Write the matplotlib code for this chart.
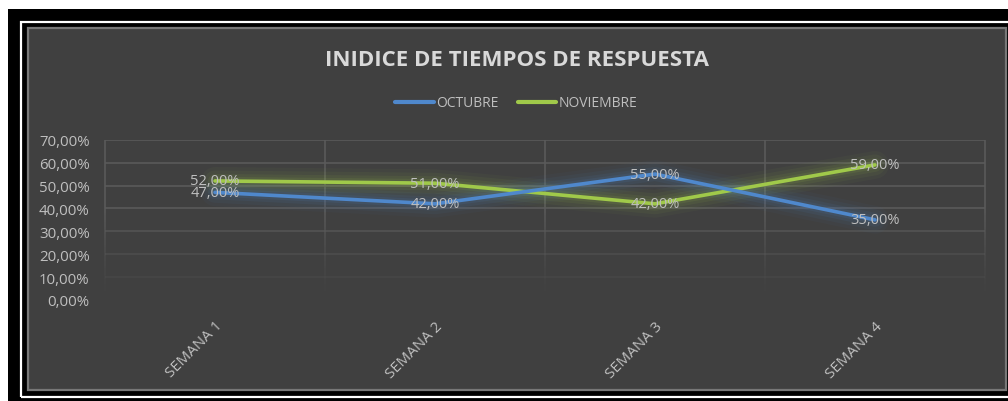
import matplotlib
matplotlib.use('Agg')
import matplotlib.pyplot as plt
import numpy as np
from matplotlib.patches import Rectangle
from matplotlib.collections import LineCollection
from matplotlib.ticker import FuncFormatter

# datos
semanas = ['SEMANA 1', 'SEMANA 2', 'SEMANA 3', 'SEMANA 4']
octubre = [0.47, 0.42, 0.55, 0.35]
noviembre = [0.52, 0.51, 0.42, 0.59]
titulo = 'INIDICE DE TIEMPOS DE RESPUESTA'

W, H = 1008, 402
BLUE = '#4f88cc'
GREEN = '#a0c94a'
PANEL = '#404040'
TXT = '#bfbfbf'
GRID = '#5a5a5a'

plt.rcParams['font.family'] = ['Open Sans', 'DejaVu Sans']

fig = plt.figure(figsize=(W / 100, H / 100), dpi=100)
fig.patch.set_facecolor('white')


def px_rect(x0, y0, x1, y1, **kw):
    # rect en pixeles, origen arriba a la izquierda
    r = Rectangle((x0 / W, 1 - y1 / H), (x1 - x0) / W, (y1 - y0) / H,
                  transform=fig.transFigure, zorder=-5, **kw)
    fig.patches.append(r)


# marco
px_rect(8, 10, 1010, 404, facecolor='black', edgecolor='none')
px_rect(20.5, 22.5, 1012, 397.5, facecolor='none', edgecolor='white', linewidth=1.6)
px_rect(28, 29, 1006, 391, facecolor=PANEL, edgecolor='#777777', linewidth=1.6)

ax = fig.add_axes([105 / W, 1 - 301 / H, 880 / W, 160.3 / H])
ax.set_facecolor('none')
x = np.arange(len(semanas))
ax.set_xlim(-0.5, 3.5)
ax.set_ylim(0, 0.7)


def grid_alpha(y):
    return np.clip(y / 0.4, 0, 1)


# lineas horizontales
for yv in np.arange(0.1, 0.71, 0.1):
    ax.axhline(yv, color=GRID, lw=1.2, alpha=float(grid_alpha(yv)), zorder=1)

# lineas verticales con degradado
ys = np.linspace(0, 0.7, 71)
for xv in [-0.5, 0.5, 1.5, 2.5, 3.5]:
    segs = [[(xv, ys[i]), (xv, ys[i + 1])] for i in range(len(ys) - 1)]
    cols = [(0x5a / 255, 0x5a / 255, 0x5a / 255, float(grid_alpha(ys[i]) ** 1.3))
            for i in range(len(ys) - 1)]
    ax.add_collection(LineCollection(segs, colors=cols, linewidths=1.2, zorder=1,
                                     clip_on=False))

# series con brillo
for vals, col in [(noviembre, GREEN), (octubre, BLUE)]:
    for lw, a in [(20, 0.04), (15, 0.06), (10, 0.08), (6, 0.1)]:
        ax.plot(x, vals, color=col, lw=lw, alpha=a, solid_capstyle='round',
                solid_joinstyle='round', zorder=2)
for vals, col, lab, z in [(octubre, BLUE, 'OCTUBRE', 4), (noviembre, GREEN, 'NOVIEMBRE', 3)]:
    ax.plot(x, vals, color=col, lw=2.6, label=lab, solid_capstyle='round',
            solid_joinstyle='round', zorder=z)

for vals in [octubre, noviembre]:
    for xi, v in zip(x, vals):
        ax.text(xi, v, f'{v * 100:.2f}%'.replace('.', ','), ha='center', va='center',
                color=TXT, fontsize=10.5, zorder=6)

for s in ax.spines.values():
    s.set_visible(False)
ax.set_yticks(np.arange(0, 0.71, 0.1))
ax.yaxis.set_major_formatter(FuncFormatter(lambda v, p: f'{v * 100:.2f}%'.replace('.', ',')))
ax.tick_params(axis='y', length=0, pad=11, labelcolor=TXT, labelsize=10.8)
ax.set_xticks(x)
ax.set_xticklabels(semanas, rotation=45, ha='right', va='top', rotation_mode='anchor')
ax.tick_params(axis='x', length=0, pad=13, labelcolor=TXT, labelsize=10.8)

fig.text(517 / W, 1 - 61 / H, titulo, ha='center', va='center', color='#d9d9d9',
         fontsize=16, fontweight='bold')

leg = ax.legend(loc='center', bbox_to_anchor=(516 / W, 1 - 104 / H),
                bbox_transform=fig.transFigure, ncol=2, frameon=False,
                fontsize=10, labelcolor=TXT, handlelength=2.8, handletextpad=0.15,
                columnspacing=1.4)
for h in leg.get_lines():
    h.set_linewidth(3)

fig.savefig('out.png', dpi=100)
